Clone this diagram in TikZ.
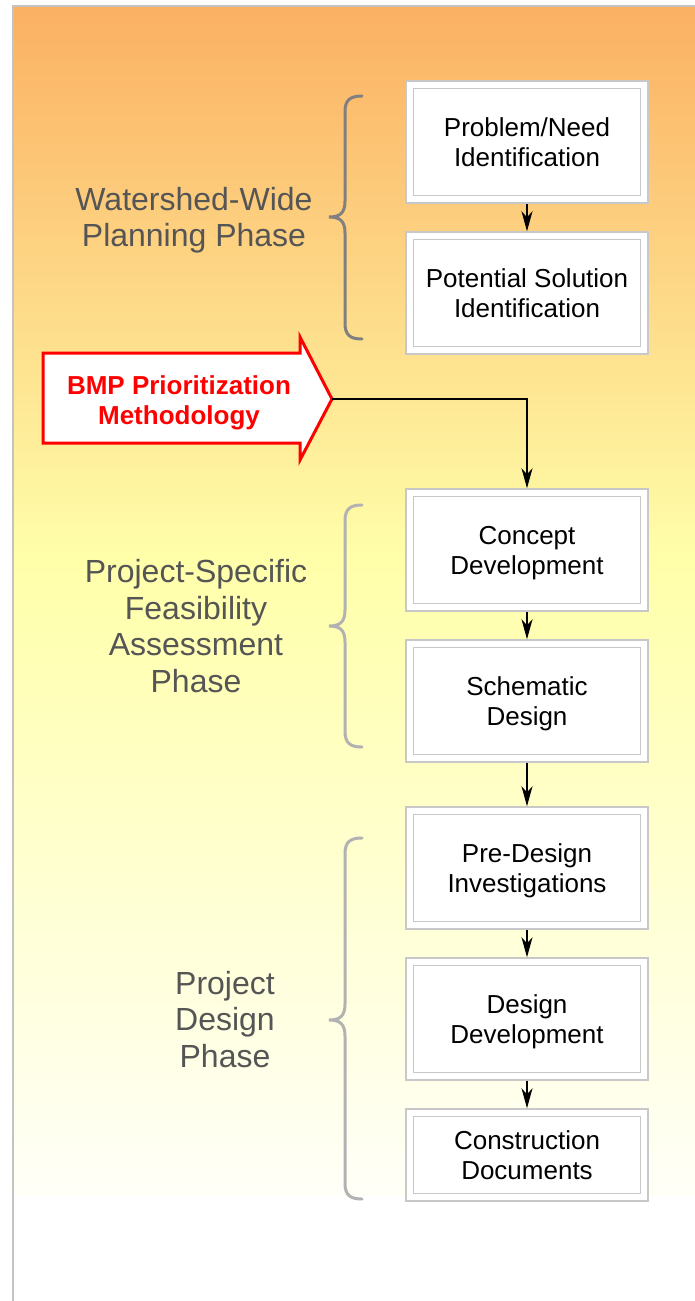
\documentclass[tikz,border=0pt]{standalone}
\usepackage{fontspec}
\setmainfont{Liberation Sans}
\usetikzlibrary{arrows.meta}

\definecolor{bgtop}{RGB}{251,176,98}
\definecolor{bgmid}{RGB}{255,255,170}
\definecolor{bgbot}{RGB}{255,255,248}
\definecolor{frame}{RGB}{195,195,195}
\definecolor{boxline}{RGB}{200,200,200}
\definecolor{phasegray}{RGB}{85,85,85}
\definecolor{bracedark}{RGB}{128,128,128}
\definecolor{bracelight}{RGB}{178,178,178}
\definecolor{bmpred}{RGB}{255,0,0}

\begin{document}
\begin{tikzpicture}[
  x=1pt, y=-1pt,
  stage/.style={draw=boxline, line width=1.5pt, fill=white,
    minimum width=242pt, minimum height=122pt, inner sep=0pt,
    align=center, text depth=0pt, font=\fontsize{26}{30}\selectfont},
  flow/.style={draw=black, line width=1.3pt,
    -{Stealth[length=20pt,width=11pt,inset=6pt]}},
  phase/.style={align=center, text=phasegray, text depth=0pt,
    font=\fontsize{32}{36.5}\selectfont},
  brace/.style={line width=3pt, line cap=round},
]
\useasboundingbox (0,0) rectangle (695,1301);
\fill[white] (0,0) rectangle (695,1301);

% slide background: orange to yellow to white
\shade[top color=bgtop, bottom color=bgmid] (13,6) rectangle (695,561);
\shade[top color=bgmid, bottom color=bgbot] (13,560) rectangle (695,1195);
\draw[frame, line width=2pt] (13,1301) -- (13,6) -- (695,6);

% process stages
\node[stage] (b1) at (527,142) {Problem/Need\\Identification};
\node[stage] (b2) at (527,293) {Potential Solution\\Identification};
\node[stage] (b3) at (527,550) {Concept\\Development};
\node[stage] (b4) at (527,701) {Schematic\\Design};
\node[stage] (b5) at (527,868) {Pre-Design\\Investigations};
\node[stage] (b6) at (527,1019) {Design\\Development};
\node[stage, minimum height=92pt] (b7) at (527,1155) {Construction\\Documents};

\foreach \b in {b1,b2,b3,b4,b5,b6,b7}
  \draw[boxline, line width=1.3pt]
    ([xshift=8pt,yshift=-8pt]\b.north west) rectangle
    ([xshift=-8pt,yshift=8pt]\b.south east);

% stage connectors
\draw[flow] (b1) -- (b2);
\draw[flow] (b3) -- (b4);
\draw[flow] (b4) -- (b5);
\draw[flow] (b5) -- (b6);
\draw[flow] (b6) -- (b7);

% BMP prioritization block arrow
\draw[bmpred, line width=3pt, fill=white, miter limit=10]
  (43,353) -- (300,353) -- (300,337) -- (332,399) -- (300,460)
  -- (300,443) -- (43,443) -- cycle;
\coordinate (bmptip) at (332,399);
\node[align=center, text=bmpred, text depth=0pt,
  font=\bfseries\fontsize{26}{30}\selectfont]
  (bmp) at (179,400) {BMP Prioritization\\Methodology};
\draw[flow] (bmptip) -| (b3.north);

% phase braces
\draw[brace, bracedark]
  (362,96) .. controls (350,96) and (345,100) .. (345,112) -- (345,201)
  .. controls (345,213) and (340,217) .. (329,217)
  .. controls (340,217) and (345,221) .. (345,233) -- (345,323)
  .. controls (345,335) and (350,339) .. (362,339);
\draw[brace, bracelight]
  (362,505) .. controls (350,505) and (345,509) .. (345,521) -- (345,610)
  .. controls (345,622) and (340,626) .. (329,626)
  .. controls (340,626) and (345,630) .. (345,642) -- (345,731)
  .. controls (345,743) and (350,747) .. (362,747);
\draw[brace, bracelight]
  (362,838) .. controls (350,838) and (345,842) .. (345,854) -- (345,1004)
  .. controls (345,1016) and (340,1020) .. (329,1020)
  .. controls (340,1020) and (345,1024) .. (345,1036) -- (345,1183)
  .. controls (345,1195) and (350,1199) .. (362,1199);

% phase labels
\node[phase] (p1) at (194,217) {Watershed-Wide\\Planning Phase};
\node[phase] (p2) at (196,626) {Project-Specific\\Feasibility\\Assessment\\Phase};
\node[phase] (p3) at (225,1019) {Project\\Design\\Phase};
\end{tikzpicture}
\end{document}
